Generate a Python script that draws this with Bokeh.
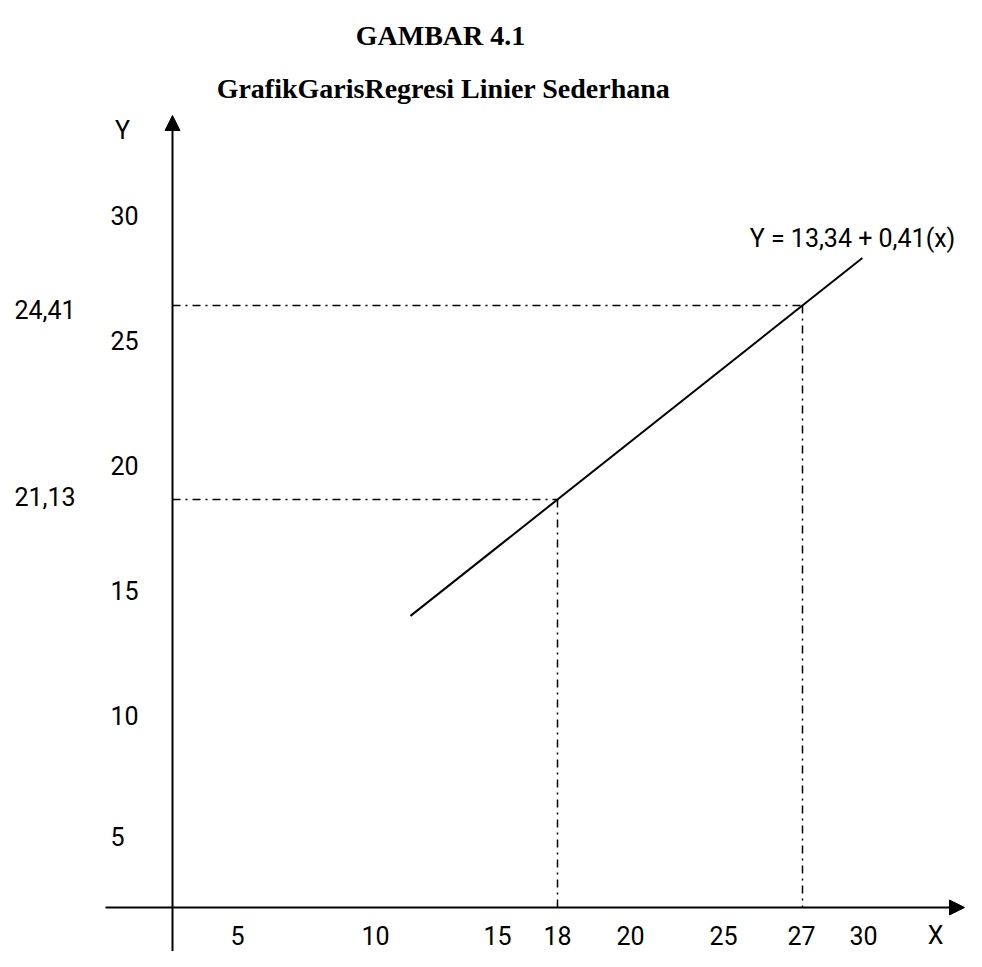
import numpy as np
from bokeh.plotting import figure
from bokeh.models import Range1d, Arrow, NormalHead
from bokeh.core.properties import value
from bokeh.embed import file_html
from bokeh.resources import INLINE

# ---------------- data ----------------
title_text = "GAMBAR 4.1"
subtitle_text = "GrafikGarisRegresi Linier Sederhana"
equation_label = "Y = 13,34 + 0,41(x)"
x_obs = [18, 27]                     # X values marked on the line
y_hat = [21.13, 24.41]               # fitted Y at those X
y_hat_labels = ["21,13", "24,41"]
line_x_span = [12.6, 29.2]           # extent of the drawn regression line (X units)
x_tick_labels = ["5", "10", "15", "18", "20", "25", "27", "30"]
y_tick_labels = ["30", "25", "20", "15", "10", "5"]
x_name, y_name = "X", "Y"

# ---------------- layout (pixels of the schematic, from the top-left corner) ----------------
W, H, M = 966, 951, 0
px_x_obs = [557, 802]
px_y_hat = [499, 305]
x_tick_px = [237, 375, 497, 557, 630, 723, 801, 863]
x_tick_row_px = 935
y_tick_px = [215, 340, 465, 590, 715, 836]
y_tick_left_px = 110
y_hat_label_left_px = 14
y_hat_label_px = [496, 309]
axis_x_px = 172          # vertical axis position
axis_y_px = 907          # horizontal axis position

# linear scale so that the marked points land where the picture has them
sx = (px_x_obs[1] - px_x_obs[0]) / (x_obs[1] - x_obs[0])
sy = (px_y_hat[0] - px_y_hat[1]) / (y_hat[1] - y_hat[0])
x0 = x_obs[0] - (px_x_obs[0] - M) / sx
x1 = x0 + W / sx
y_top = y_hat[0] + (px_y_hat[0] - M) / sy
y_bot = y_top - H / sy


def px2x(p):
    return x0 + (np.asarray(p, dtype=float) - M) / sx


def px2y(p):
    return y_top - (np.asarray(p, dtype=float) - M) / sy


p = figure(width=W, height=H, output_backend="svg", toolbar_location=None,
           x_range=Range1d(x0, x1), y_range=Range1d(y_bot, y_top),
           x_axis_type=None, y_axis_type=None, min_border=0,
           outline_line_color=None, background_fill_color="white",
           border_fill_color="white")
p.xgrid.visible = False
p.ygrid.visible = False

black = "#000000"
label_font = value("Roboto")
title_font = value("Liberation Serif")
label_size = "25px"

# axes with arrow heads
ax_x = float(px2x(axis_x_px))
ax_y = float(px2y(axis_y_px))
p.add_layout(Arrow(end=NormalHead(size=15, fill_color=black, line_color=black, line_width=1),
                   x_start=ax_x, y_start=float(px2y(H + 20)), x_end=ax_x, y_end=float(px2y(115)),
                   line_width=2, line_color=black))
p.add_layout(Arrow(end=NormalHead(size=15, fill_color=black, line_color=black, line_width=1),
                   x_start=float(px2x(105)), y_start=ax_y, x_end=float(px2x(W - 2)), y_end=ax_y,
                   line_width=2, line_color=black))

# regression line through the two marked points
coef = np.polyfit(x_obs, y_hat, 1)
lx = np.array(line_x_span)
p.line(lx, np.polyval(coef, lx), line_color=black, line_width=2)

# dash-dot guide lines
for xv, yv in zip(x_obs, y_hat):
    p.line([ax_x, xv], [yv, yv], line_color=black, line_width=1.5, line_dash="8 5 2 5")
    p.line([xv, xv], [yv, ax_y], line_color=black, line_width=1.5, line_dash="8 5 2 5")

# tick labels
p.text(x=list(px2x(x_tick_px)), y=[float(px2y(x_tick_row_px))] * len(x_tick_labels),
       text=x_tick_labels, text_font=label_font, text_font_size=label_size,
       text_align="center", text_baseline="middle", text_color=black)
p.text(x=[float(px2x(y_tick_left_px))] * len(y_tick_labels), y=list(px2y(y_tick_px)),
       text=y_tick_labels, text_font=label_font, text_font_size=label_size,
       text_align="left", text_baseline="middle", text_color=black)
p.text(x=[float(px2x(y_hat_label_left_px))] * 2, y=list(px2y(y_hat_label_px)),
       text=y_hat_labels, text_font=label_font, text_font_size=label_size,
       text_align="left", text_baseline="middle", text_color=black)

# axis names and equation
p.text(x=[float(px2x(122))], y=[float(px2y(130))], text=[y_name], text_font=label_font,
       text_font_size=label_size, text_align="center", text_baseline="middle", text_color=black)
p.text(x=[float(px2x(935))], y=[float(px2y(x_tick_row_px))], text=[x_name], text_font=label_font,
       text_font_size=label_size, text_align="center", text_baseline="middle", text_color=black)
p.text(x=[float(px2x(852))], y=[float(px2y(238))], text=[equation_label], text_font=label_font,
       text_font_size=label_size, text_align="center", text_baseline="middle", text_color=black)

# titles
p.text(x=[float(px2x(440))], y=[float(px2y(35))], text=[title_text], text_font=title_font,
       text_font_size="28px", text_font_style="bold", text_align="center",
       text_baseline="middle", text_color=black)
p.text(x=[float(px2x(443))], y=[float(px2y(88))], text=[subtitle_text], text_font=title_font,
       text_font_size="28px", text_font_style="bold", text_align="center",
       text_baseline="middle", text_color=black)

open("out.html", "w").write(file_html(p, INLINE))
